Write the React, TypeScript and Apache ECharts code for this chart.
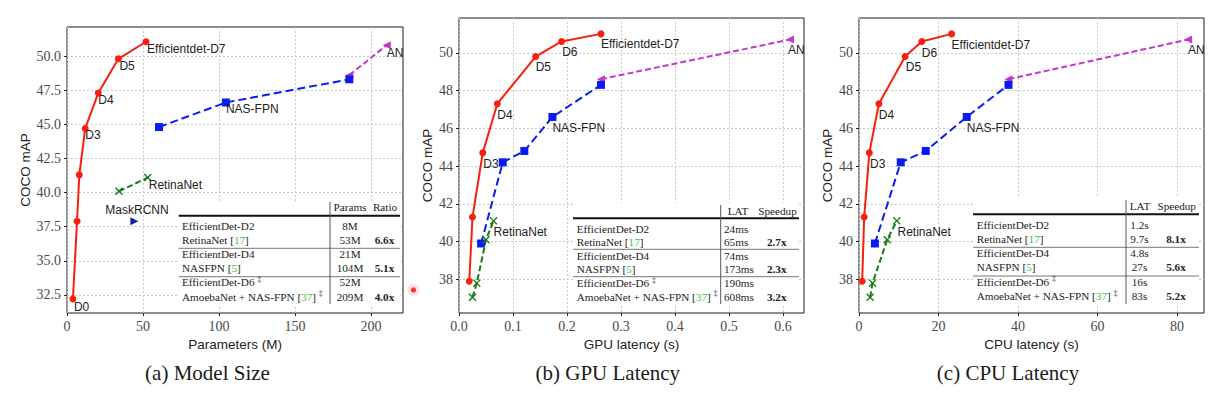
import React, { useEffect, useRef } from 'react';
import * as echarts from 'echarts';

const SANS = 'Liberation Sans';
const SERIF = 'Liberation Serif';

// ---------------- data ----------------
// (a) Model size: parameters (M) vs COCO mAP
const effNamesA = ['D0', 'D1', 'D2', 'D3', 'D4', 'D5', 'Efficientdet-D7'];
const effParamsA = [3.9, 6.6, 8.1, 12.0, 20.6, 33.8, 52.0];
const effMapA = [32.2, 37.9, 41.3, 44.7, 47.3, 49.8, 51.05];
const nasParamsA = [60.5, 104.5, 185.7];
const nasMapA = [44.8, 46.6, 48.3];
const amoebaParamsA = [185.7, 210.3];
const amoebaMapA = [48.6, 50.8];
const retinaParamsA = [34.2, 53.1];
const retinaMapA = [40.1, 41.1];
const maskParamsA = [44.3];
const maskMapA = [37.9];

// (b) GPU latency (s) and (c) CPU latency (s)
const effNamesBC = ['D1', 'D2', 'D3', 'D4', 'D5', 'D6', 'Efficientdet-D7'];
const effGpu = [0.019, 0.025, 0.044, 0.071, 0.142, 0.19, 0.263];
const effCpu = [0.8, 1.3, 2.6, 5.0, 11.6, 15.8, 23.3];
const effMapBC = [37.9, 41.3, 44.7, 47.3, 49.8, 50.6, 51.0];
const nasGpu = [0.041, 0.081, 0.121, 0.173, 0.263];
const nasCpu = [4.0, 10.5, 16.8, 27.1, 37.6];
const nasMapBC = [39.9, 44.2, 44.8, 46.6, 48.3];
const retinaGpu = [0.025, 0.033, 0.05, 0.064];
const retinaCpu = [2.8, 3.4, 7.1, 9.5];
const retinaMapBC = [37.05, 37.8, 40.1, 41.1];
const amoebaGpu = [0.263, 0.613];
const amoebaCpu = [37.6, 82.8];
const amoebaMapBC = [48.6, 50.7];

// ticks
const xTicksA = [0, 50, 100, 150, 200];
const yTicksA = [32.5, 35, 37.5, 40, 42.5, 45, 47.5, 50];
const xTicksB = [0, 0.1, 0.2, 0.3, 0.4, 0.5, 0.6];
const xTicksC = [0, 20, 40, 60, 80];
const yTicksBC = [38, 40, 42, 44, 46, 48, 50];

// tables
const tableModels = [
  'EfficientDet-D2',
  'RetinaNet [17]',
  'EfficientDet-D4',
  'NASFPN [5]',
  'EfficientDet-D6 ‡',
  'AmoebaNet + NAS-FPN [37] ‡',
];
const headersA = ['Params', 'Ratio'];
const paramsA = ['8M', '53M', '21M', '104M', '52M', '209M'];
const ratioA = ['', '6.6x', '', '5.1x', '', '4.0x'];
const headersBC = ['LAT', 'Speedup'];
const gpuLat = ['24ms', '65ms', '74ms', '173ms', '190ms', '608ms'];
const gpuSpeedup = ['', '2.7x', '', '2.3x', '', '3.2x'];
const cpuLat = ['1.2s', '9.7s', '4.8s', '27s', '16s', '83s'];
const cpuSpeedup = ['', '8.1x', '', '5.6x', '', '5.2x'];

const captions = ['(a) Model Size', '(b) GPU Latency', '(c) CPU Latency'];
const xNames = ['Parameters (M)', 'GPU latency (s)', 'CPU latency (s)'];

// ---------------- layout / styles ----------------
const RED = '#f5200e';
const BLUE = '#0a1cf2';
const GREEN = '#177a17';
const MAGENTA = '#c437c9';
const NAVY = '#13239a';
const XMARK = 'path://M0,1.2L1.2,0L5,3.8L8.8,0L10,1.2L6.2,5L10,8.8L8.8,10L5,6.2L1.2,10L0,8.8L3.8,5Z';
const TRI_LEFT = 'path://M0,5L10,0L10,10Z';
const TRI_RIGHT = 'path://M10,5L0,0L0,10Z';

const labelOffsets: Record<string, Record<string, number[]>> = {
  a: { D0: [1, 8], D3: [0, 7], D4: [0, 7.5], D5: [1, 7], 'Efficientdet-D7': [1, 7], 'NAS-FPN': [0, 7], RetinaNet: [1, 7.5], AN: [0, 8], MaskRCNN: [-29, -11] },
  b: { D3: [0.6, 11], D4: [0, 11.4], D5: [0, 10], D6: [0.6, 11], 'Efficientdet-D7': [0, 10.4], 'NAS-FPN': [0, 11], RetinaNet: [0, 11], AN: [-2, 10.7] },
  c: { D3: [0.7, 11], D4: [0, 11.4], D5: [0.7, 10.8], D6: [0, 11.8], 'Efficientdet-D7': [0, 11], 'NAS-FPN': [0, 11], RetinaNet: [0.7, 11], AN: [0, 10.7] },
};

const tableLayouts = [
  { x0: 178.7, x1: 400, top: 201, bottom: 306, topRule: 215.7, headerY: 206.7, vx: 330, vTop: 201.7, vBot: 304, rowsY: [226, 240, 254, 268, 282.3, 296.7], labelX: 182, h1X: 350, c1X: 350, c1Align: 'center', h2X: 385, c2X: 384.5, midRules: [248.3, 276.7] },
  { x0: 573, x1: 799, top: 203, bottom: 306, topRule: 218.3, headerY: 210.7, vx: 720.7, vTop: 205, vBot: 304, rowsY: [229, 242.3, 255.7, 269.3, 283.3, 296.7], labelX: 576.7, h1X: 738, c1X: 724, c1Align: 'left', h2X: 777.5, c2X: 776.7, midRules: [249.3, 276.7] },
  { x0: 973, x1: 1199, top: 198, bottom: 306, topRule: 214.3, headerY: 206, vx: 1126, vTop: 200, vBot: 304, rowsY: [225, 239.3, 252.7, 267.3, 281.7, 296], labelX: 976.7, h1X: 1140, c1X: 1139.5, c1Align: 'center', h2X: 1176.7, c2X: 1176, midRules: [247.3, 276] },
];

function richText(s: string) {
  return s.replace(/\[(\d+)\]/g, '[{g|$1}]').replace('‡', '{s|‡}');
}

function buildTable(i: number, headers: string[], col1: string[], col2: string[]) {
  const L = tableLayouts[i];
  const els: any[] = [];
  const textStyle = { fill: '#222', fontSize: 11.2, fontFamily: SERIF };
  els.push({ type: 'rect', silent: true, shape: { x: L.x0, y: L.top, width: L.x1 - L.x0, height: L.bottom - L.top }, style: { fill: '#fff' }, z: 50 });
  els.push({ type: 'line', silent: true, shape: { x1: L.x0, y1: L.topRule, x2: L.x1, y2: L.topRule }, style: { stroke: '#111', lineWidth: 2 }, z: 51 });
  L.midRules.forEach((y) => els.push({ type: 'line', silent: true, shape: { x1: L.x0, y1: y, x2: L.x1, y2: y }, style: { stroke: '#777', lineWidth: 1 }, z: 51 }));
  els.push({ type: 'line', silent: true, shape: { x1: L.vx, y1: L.vTop, x2: L.vx, y2: L.vBot }, style: { stroke: '#555', lineWidth: 1 }, z: 51 });
  els.push({ type: 'text', silent: true, x: L.h1X, y: L.headerY, style: { ...textStyle, text: headers[0], align: 'center', verticalAlign: 'middle' }, z: 52 });
  els.push({ type: 'text', silent: true, x: L.h2X, y: L.headerY, style: { ...textStyle, text: headers[1], align: 'center', verticalAlign: 'middle' }, z: 52 });
  tableModels.forEach((m, r) => {
    const y = L.rowsY[r];
    els.push({
      type: 'text', silent: true, x: L.labelX, y,
      style: {
        ...textStyle, text: richText(m), align: 'left', verticalAlign: 'middle',
        rich: {
          g: { fill: '#3dc43d', fontSize: 11.2, fontFamily: SERIF },
          s: { fill: '#333', fontSize: 8, fontFamily: SERIF, verticalAlign: 'top', padding: [0, 0, 6, 0] },
        },
      },
      z: 52,
    });
    els.push({ type: 'text', silent: true, x: L.c1X, y, style: { ...textStyle, text: col1[r], align: L.c1Align, verticalAlign: 'middle' }, z: 52 });
    if (col2[r]) {
      els.push({ type: 'text', silent: true, x: L.c2X, y, style: { ...textStyle, text: col2[r], fontWeight: 'bold', align: 'center', verticalAlign: 'middle' }, z: 52 });
    }
  });
  return els;
}

function series(grid: number, key: string, xs: number[], ys: number[], st: any, labels: Record<number, string>) {
  const offs = labelOffsets[key];
  return {
    type: 'line',
    xAxisIndex: grid,
    yAxisIndex: grid,
    showSymbol: true,
    showAllSymbol: true,
    clip: false,
    symbol: st.symbol,
    symbolSize: st.size,
    z: st.z,
    itemStyle: { color: st.color },
    lineStyle: st.line ? { color: st.color, width: 2, type: st.line } : { width: 0, opacity: 0 },
    data: xs.map((x, i) => {
      const item: any = { value: [x, ys[i]] };
      const t = labels[i];
      if (t) {
        item.label = {
          show: true,
          formatter: t,
          position: 'inside',
          align: 'left',
          verticalAlign: 'middle',
          offset: offs[t],
          color: '#222',
          fontSize: 12,
          fontFamily: SANS,
        };
      }
      return item;
    }),
  };
}

const styleRed = { color: RED, symbol: 'circle', size: 7, line: 'solid', z: 5 };
const styleBlue = { color: BLUE, symbol: 'rect', size: 8, line: [8, 4], z: 4 };
const styleGreen = { color: GREEN, symbol: XMARK, size: 8, line: [6, 3], z: 4 };
const styleMag = { color: MAGENTA, symbol: TRI_LEFT, size: 8, line: [6, 3], z: 3 };
const styleNavy = { color: NAVY, symbol: TRI_RIGHT, size: 8, line: null, z: 3 };

function labelsFrom(names: string[], shown: string[]) {
  const r: Record<number, string> = {};
  names.forEach((n, i) => { if (shown.includes(n)) r[i] = n; });
  return r;
}

const tickLabelStyle = { fontFamily: SERIF, fontSize: 14, color: '#4a4a4a', margin: 6 };

function xAxis(grid: number, min: number, max: number, ticks: number[], fmt: (v: number) => string, name: string) {
  return {
    type: 'value', gridIndex: grid, min, max,
    axisLine: { show: false },
    axisTick: { show: true, inside: false, length: 3, customValues: ticks, lineStyle: { color: '#222' } },
    axisLabel: { customValues: ticks, formatter: fmt, ...tickLabelStyle },
    splitLine: { show: true, lineStyle: { color: '#c8c8c8', type: [2, 2], width: 1 } },
    name, nameLocation: 'middle', nameGap: 22,
    nameTextStyle: { fontFamily: SANS, fontSize: 13.5, color: '#222' },
  };
}
function yAxis(grid: number, min: number, max: number, ticks: number[], fmt: (v: number) => string, gap: number) {
  return {
    type: 'value', gridIndex: grid, min, max,
    axisLine: { show: false },
    axisTick: { show: true, inside: false, length: 3, customValues: ticks, lineStyle: { color: '#222' } },
    axisLabel: { customValues: ticks, formatter: fmt, ...tickLabelStyle },
    splitLine: { show: true, lineStyle: { color: '#c8c8c8', type: [2, 2], width: 1 } },
    name: 'COCO mAP', nameLocation: 'middle', nameGap: gap,
    nameTextStyle: { fontFamily: SANS, fontSize: 13.5, color: '#222' },
  };
}

export default function App() {
  const ref = useRef<HTMLDivElement>(null);
  useEffect(() => {
    if (!ref.current) return;
    const chart = echarts.init(ref.current, null, { renderer: 'svg' });
    const gridBase = { show: true, borderColor: '#1a1a1a', borderWidth: 1, backgroundColor: 'transparent', containLabel: false, outerBoundsMode: 'none' };
    const captionXs = [207.5, 607.8, 1008];
    const option: any = {
      animation: false,
      backgroundColor: '#fff',
      textStyle: { fontFamily: SERIF },
      grid: [
        { ...gridBase, left: 67, top: 27, width: 336, height: 286 },
        { ...gridBase, left: 459, top: 18, width: 345, height: 295 },
        { ...gridBase, left: 859, top: 18, width: 345, height: 295 },
      ],
      xAxis: [
        xAxis(0, 0, 221, xTicksA, (v) => String(v), xNames[0]),
        xAxis(1, 0, 0.639, xTicksB, (v) => v.toFixed(1), xNames[1]),
        xAxis(2, 0, 86.8, xTicksC, (v) => String(v), xNames[2]),
      ],
      yAxis: [
        yAxis(0, 31.18, 52.13, yTicksA, (v) => v.toFixed(1), 34),
        yAxis(1, 36.22, 51.84, yTicksBC, (v) => String(v), 25),
        yAxis(2, 36.22, 51.84, yTicksBC, (v) => String(v), 25),
      ],
      series: [
        series(0, 'a', effParamsA, effMapA, styleRed, labelsFrom(effNamesA, ['D0', 'D3', 'D4', 'D5', 'Efficientdet-D7'])),
        series(0, 'a', nasParamsA, nasMapA, styleBlue, { 1: 'NAS-FPN' }),
        series(0, 'a', amoebaParamsA, amoebaMapA, styleMag, { 1: 'AN' }),
        series(0, 'a', retinaParamsA, retinaMapA, styleGreen, { 1: 'RetinaNet' }),
        series(0, 'a', maskParamsA, maskMapA, styleNavy, { 0: 'MaskRCNN' }),

        series(1, 'b', effGpu, effMapBC, styleRed, labelsFrom(effNamesBC, ['D3', 'D4', 'D5', 'D6', 'Efficientdet-D7'])),
        series(1, 'b', nasGpu, nasMapBC, styleBlue, { 3: 'NAS-FPN' }),
        series(1, 'b', amoebaGpu, amoebaMapBC, styleMag, { 1: 'AN' }),
        series(1, 'b', retinaGpu, retinaMapBC, styleGreen, { 3: 'RetinaNet' }),

        series(2, 'c', effCpu, effMapBC, styleRed, labelsFrom(effNamesBC, ['D3', 'D4', 'D5', 'D6', 'Efficientdet-D7'])),
        series(2, 'c', nasCpu, nasMapBC, styleBlue, { 3: 'NAS-FPN' }),
        series(2, 'c', amoebaCpu, amoebaMapBC, styleMag, { 1: 'AN' }),
        series(2, 'c', retinaCpu, retinaMapBC, styleGreen, { 3: 'RetinaNet' }),
      ],
      graphic: [
        ...buildTable(0, headersA, paramsA, ratioA),
        ...buildTable(1, headersBC, gpuLat, gpuSpeedup),
        ...buildTable(2, headersBC, cpuLat, cpuSpeedup),
        ...captions.map((c, i) => ({
          type: 'text', silent: true, x: captionXs[i], y: 372.7,
          style: { text: c, fill: '#1a1a1a', fontSize: 21, fontFamily: SERIF, align: 'center', verticalAlign: 'middle' },
        })),
        { type: 'circle', silent: true, shape: { cx: 413.5, cy: 290, r: 6 }, style: { fill: 'rgba(255,90,90,0.18)' } },
        { type: 'circle', silent: true, shape: { cx: 413.5, cy: 290, r: 2.6 }, style: { fill: '#ff3030' } },
      ],
    };
    chart.setOption(option);
    return () => chart.dispose();
  }, []);
  return <div ref={ref} style={{ position: 'fixed', left: 0, top: 0, width: 1226, height: 396, background: '#fff' }} />;
}
